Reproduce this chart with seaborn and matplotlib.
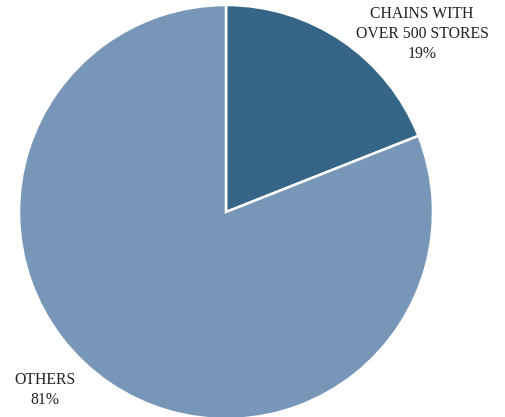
import matplotlib
matplotlib.use("Agg")
import matplotlib.pyplot as plt
import seaborn as sns

# Data
categories = ["CHAINS WITH\nOVER 500 STORES", "OTHERS"]
shares = [19, 81]
colors = ["#356587", "#7897b8"]

sns.set_style("white")
plt.rcParams["font.family"] = ["Liberation Serif", "DejaVu Serif"]

fig = plt.figure(figsize=(5.05, 4.17), dpi=100)
ax = fig.add_axes([0, 0, 1, 1])

wedges, _ = ax.pie(shares, colors=colors, startangle=90, counterclock=False,
                   radius=1.0, wedgeprops=dict(edgecolor="white", linewidth=1.8))

# pixel layout: center (226, 212), radius 207
r = 207.0
ax.set_xlim(-226 / r, (505 - 226) / r)
ax.set_ylim(-(417 - 212) / r, 212 / r)
ax.set_aspect("equal")
ax.axis("off")

def px(x, y):
    return (x - 226) / r, (212 - y) / r

label_pos = [px(422, 34), px(45, 390)]
for cat, val, pos in zip(categories, shares, label_pos):
    ax.text(pos[0], pos[1], f"{cat}\n{val}%", ha="center", va="center",
            fontsize=11.3, color="#222222", linespacing=1.35)

fig.savefig("out.png", dpi=100)
